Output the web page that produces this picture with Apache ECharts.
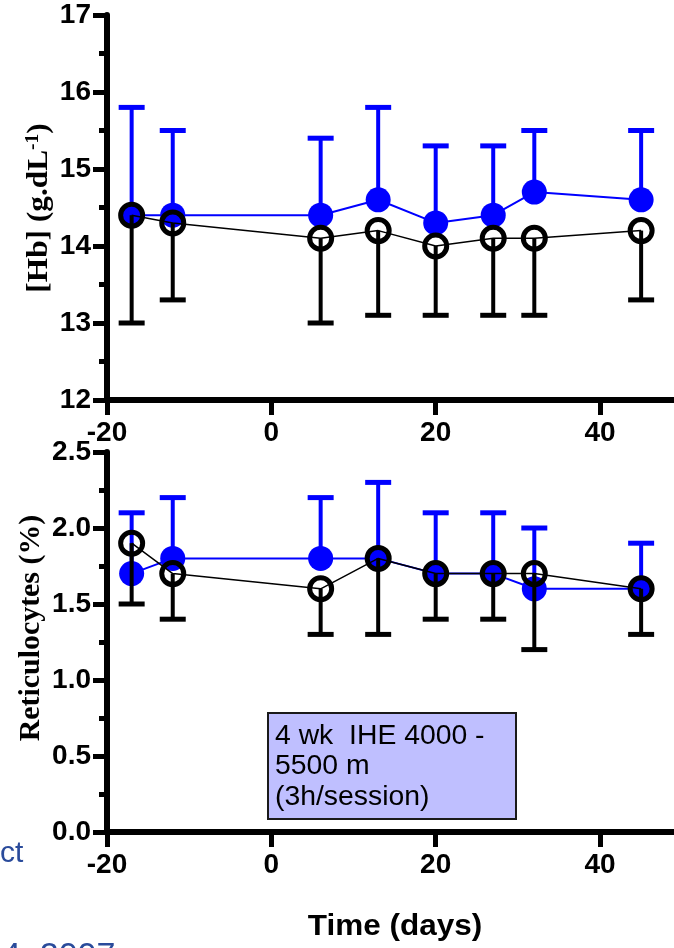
<!DOCTYPE html>
<html>
<head>
<meta charset="utf-8">
<script src="https://cdn.jsdelivr.net/npm/echarts@6/dist/echarts.min.js"></script>
<style>
  html, body { margin: 0; padding: 0; background: #fff; }
  #chart { width: 674px; height: 948px; }
</style>
</head>
<body>
<div id="chart"></div>
<script>
// ---- data ----
const days = [-17, -12, 6, 13, 20, 27, 32, 45];
const hbIHE = [14.4, 14.4, 14.4, 14.6, 14.3, 14.4, 14.7, 14.6];
const hbIHEUpper = [15.8, 15.5, 15.4, 15.8, 15.3, 15.3, 15.5, 15.5];
const hbCtrl = [14.4, 14.3, 14.1, 14.2, 14.0, 14.1, 14.1, 14.2];
const hbCtrlLower = [13.0, 13.3, 13.0, 13.1, 13.1, 13.1, 13.1, 13.3];
const retIHE = [1.7, 1.8, 1.8, 1.8, 1.7, 1.7, 1.6, 1.6];
const retIHEUpper = [2.1, 2.2, 2.2, 2.3, 2.1, 2.1, 2.0, 1.9];
const retCtrl = [1.9, 1.7, 1.6, 1.8, 1.7, 1.7, 1.7, 1.6];
const retCtrlLower = [1.5, 1.4, 1.3, 1.3, 1.4, 1.4, 1.2, 1.3];
const xTicks = [-20, 0, 20, 40];
const hbTicks = [12, 13, 14, 15, 16, 17];
const retTicks = [0, 0.5, 1.0, 1.5, 2.0, 2.5];

const BLUE = '#0000ff';
const BLACK = '#000000';
const SANS = 'Liberation Sans, Arial, sans-serif';
const SERIF = 'Liberation Serif, Times New Roman, serif';

const chart = echarts.init(document.getElementById('chart'), null, { renderer: 'canvas' });

function xAxisCfg(gridIndex) {
  return {
    type: 'value', gridIndex: gridIndex,
    min: -20, max: 49, interval: 20,
    axisLine: { show: true, onZero: false, lineStyle: { color: BLACK, width: 6 } },
    axisTick: { show: true, length: 15, customValues: xTicks, lineStyle: { color: BLACK, width: 5 } },
    axisLabel: { customValues: xTicks, fontFamily: SANS, fontWeight: 'bold', fontSize: 28, color: BLACK, margin: 19 },
    splitLine: { show: false }
  };
}
function yAxisCfg(gridIndex, ticks, fmt) {
  const step = ticks[1] - ticks[0];
  return {
    type: 'value', gridIndex: gridIndex,
    min: ticks[0], max: ticks[ticks.length - 1], interval: step,
    axisLine: { show: true, onZero: false, lineStyle: { color: BLACK, width: 6 } },
    axisTick: { show: true, length: 14, lineStyle: { color: BLACK, width: 5 } },
    minorTick: { show: true, splitNumber: 2, length: 8, lineStyle: { color: BLACK, width: 5 } },
    axisLabel: { fontFamily: SANS, fontWeight: 'bold', fontSize: 28, color: BLACK, margin: 16, formatter: fmt },
    splitLine: { show: false },
    minorSplitLine: { show: false }
  };
}

function errSeries(gi, means, ends, color, z) {
  return {
    type: 'custom', xAxisIndex: gi, yAxisIndex: gi, z: z, silent: true,
    encode: { x: 0, y: [1, 2] },
    data: days.map((d, i) => [d, means[i], ends[i]]),
    renderItem: function (params, api) {
      const p0 = api.coord([api.value(0), api.value(1)]);
      const p1 = api.coord([api.value(0), api.value(2)]);
      return {
        type: 'group',
        children: [
          { type: 'line', shape: { x1: p0[0], y1: p0[1], x2: p1[0], y2: p1[1] }, style: { stroke: color, lineWidth: 4 } },
          { type: 'line', shape: { x1: p1[0] - 13, y1: p1[1], x2: p1[0] + 13, y2: p1[1] }, style: { stroke: color, lineWidth: 5 } }
        ]
      };
    }
  };
}
function filledSeries(gi, vals, z) {
  return {
    type: 'line', xAxisIndex: gi, yAxisIndex: gi, z: z, silent: true,
    data: days.map((d, i) => [d, vals[i]]),
    symbol: 'circle', symbolSize: 25,
    itemStyle: { color: BLUE },
    lineStyle: { color: BLUE, width: 2 }
  };
}
function openSeries(gi, vals, z) {
  return {
    type: 'line', xAxisIndex: gi, yAxisIndex: gi, z: z, silent: true,
    data: days.map((d, i) => [d, vals[i]]),
    symbol: 'circle', symbolSize: 22,
    itemStyle: { color: 'rgba(0,0,0,0)', borderColor: BLACK, borderWidth: 5 },
    lineStyle: { color: BLACK, width: 1.5 }
  };
}

const option = {
  animation: false,
  backgroundColor: '#ffffff',
  grid: [
    { left: 107, top: 15, width: 567, height: 385 },
    { left: 107, top: 452, width: 567, height: 380 }
  ],
  xAxis: [xAxisCfg(0), xAxisCfg(1)],
  yAxis: [
    yAxisCfg(0, hbTicks, v => String(v)),
    yAxisCfg(1, retTicks, v => v.toFixed(1))
  ],
  series: [
    errSeries(0, hbIHE, hbIHEUpper, BLUE, 2),
    filledSeries(0, hbIHE, 3),
    errSeries(0, hbCtrl, hbCtrlLower, BLACK, 4),
    openSeries(0, hbCtrl, 5),
    errSeries(1, retIHE, retIHEUpper, BLUE, 2),
    filledSeries(1, retIHE, 3),
    errSeries(1, retCtrl, retCtrlLower, BLACK, 4),
    openSeries(1, retCtrl, 5)
  ],
  graphic: [
    {
      type: 'text', x: 40, y: 208, rotation: Math.PI / 2, scaleX: 1.08,
      style: {
        text: '{a|[Hb] (g.dL}{s|-1}{a|)}',
        rich: {
          a: { fontFamily: SERIF, fontWeight: 'bold', fontSize: 29, lineHeight: 32, fill: BLACK },
          s: { fontFamily: SERIF, fontWeight: 'bold', fontSize: 18, lineHeight: 24, verticalAlign: 'top', fill: BLACK }
        },
        align: 'center', verticalAlign: 'middle'
      }
    },
    {
      type: 'text', x: 32, y: 628, rotation: Math.PI / 2, scaleX: 1.03,
      style: {
        text: 'Reticulocytes (%)', fontFamily: SERIF, fontWeight: 'bold', fontSize: 29,
        fill: BLACK, align: 'center', verticalAlign: 'middle'
      }
    },
    {
      type: 'text', x: 395, y: 927, scaleX: 1.05,
      style: {
        text: 'Time (days)', fontFamily: SANS, fontWeight: 'bold', fontSize: 30,
        fill: BLACK, align: 'center', verticalAlign: 'middle'
      }
    },
    {
      type: 'rect', shape: { x: 268, y: 713, width: 248, height: 106 },
      style: { fill: '#bfbfff', stroke: '#1a1a1a', lineWidth: 2 }, z: 10
    },
    {
      type: 'text', x: 275, y: 721, scaleX: 1.05, z: 11,
      style: {
        text: '4 wk  IHE 4000 -\n5500 m\n(3h/session)', fontFamily: SANS, fontSize: 27,
        lineHeight: 30.5, fill: BLACK, align: 'left', verticalAlign: 'top'
      }
    },
    {
      type: 'text', x: 0, y: 869,
      style: { text: 'ct', fontFamily: SANS, fontSize: 30, fill: '#2a4b9b', align: 'left', verticalAlign: 'bottom' }
    },
    {
      type: 'text', x: 2, y: 940,
      style: { text: '4, 2007', fontFamily: SANS, fontSize: 34, fill: '#2a4b9b', align: 'left', verticalAlign: 'top' }
    }
  ]
};
chart.setOption(option);
</script>
</body>
</html>
